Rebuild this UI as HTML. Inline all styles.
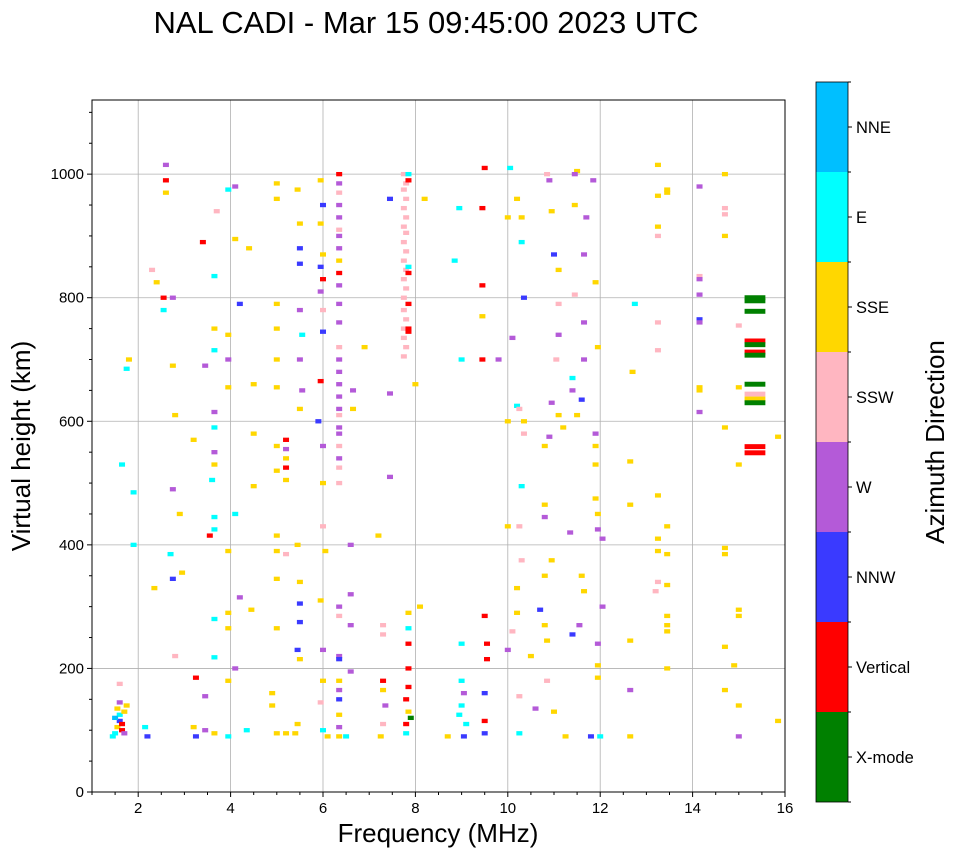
<!DOCTYPE html>
<html><head><meta charset="utf-8"><style>
body{margin:0;background:#fff;font-family:"Liberation Sans",sans-serif}
svg text{font-family:"Liberation Sans",sans-serif;fill:#000}
</style></head><body>
<svg id="c" width="958" height="857">
<text x="426" y="33" font-size="31" text-anchor="middle">NAL CADI - Mar 15 09:45:00 2023 UTC</text>
<g id="grid"></g><g id="marks"></g><g id="axes"></g><g id="cbar"></g>
<text x="438" y="842" font-size="26" text-anchor="middle">Frequency (MHz)</text>
<text transform="translate(30,446) rotate(-90)" font-size="26" text-anchor="middle">Virtual height (km)</text>
<text transform="translate(944,442) rotate(-90)" font-size="26" text-anchor="middle">Azimuth Direction</text>
</svg>
<script>
const xTicks=[2,4,6,8,10,12,14,16];
const yTicks=[0,200,400,600,800,1000];
const dirNames=["X-mode","Vertical","NNW","W","SSW","SSE","E","NNE"];
const dirColors=["#008000","#ff0000","#3a3aff","#b45ad8","#ffb6c1","#ffd700","#00ffff","#00bfff"];
const obs=[
[1.5,95,6],[1.55,105,5],[1.6,115,2],[1.6,125,6],[1.65,100,1],[1.55,135,5],[1.6,145,3],[1.65,110,1],[1.5,120,7],[1.7,95,3],[1.6,175,4],[1.7,130,5],[1.45,90,6],[1.75,140,5],[1.75,685,6],[1.8,700,5],[1.9,485,6],[1.9,400,6],[1.65,530,6],[2.15,105,6],[2.2,90,2],
[2.3,845,4],[2.4,825,5],[2.55,800,1],[2.55,780,6],[2.6,1015,3],[2.6,990,1],[2.6,970,5],[2.75,800,3],[2.75,690,5],[2.8,610,5],[2.75,490,3],[2.7,385,6],[2.75,345,2],[2.8,220,4],[2.35,330,5],[2.95,355,5],[2.9,450,5],
[3.2,570,5],[3.25,185,1],[3.2,105,5],[3.25,90,2],[3.4,890,1],[3.45,690,3],[3.45,155,3],[3.45,100,3],
[3.65,835,6],[3.65,750,5],[3.65,715,6],[3.65,615,3],[3.65,590,6],[3.65,550,3],[3.65,530,5],[3.6,505,6],[3.65,445,6],[3.65,425,6],[3.55,415,1],[3.65,280,6],[3.65,218,6],[3.65,95,5],[3.7,940,4],
[3.95,975,6],[3.95,740,5],[3.95,700,3],[3.95,655,5],[3.95,390,5],[3.95,290,5],[3.95,265,5],[3.95,180,5],[3.95,90,6],
[4.1,980,3],[4.1,895,5],[4.1,450,6],[4.1,200,3],[4.2,790,2],[4.2,315,3],[4.35,100,6],[4.4,880,5],[4.45,295,5],[4.5,660,5],[4.5,580,5],[4.5,495,5],
[5.0,985,5],[5.0,960,5],[5.0,790,5],[5.0,750,5],[5.0,700,5],[5.0,655,5],[5.0,560,5],[5.0,520,5],[5.0,415,5],[5.0,390,5],[5.0,345,5],[5.0,265,5],[4.9,160,5],[4.9,140,5],[5.0,95,5],
[5.2,570,1],[5.2,555,3],[5.2,540,5],[5.2,525,1],[5.2,505,5],[5.2,385,4],[5.2,95,5],
[5.45,975,5],[5.5,920,5],[5.5,880,2],[5.5,855,2],[5.5,780,3],[5.55,740,6],[5.5,700,3],[5.55,650,3],[5.5,620,5],[5.45,400,5],[5.5,340,5],[5.5,305,2],[5.5,275,2],[5.45,230,2],[5.5,215,5],[5.45,110,5],[5.4,95,5],
[5.95,990,5],[6.0,950,2],[5.95,920,5],[6.0,870,5],[5.95,850,2],[6.0,830,1],[5.95,810,3],[6.0,780,4],[6.0,745,2],[5.95,665,1],[5.9,600,2],[6.0,560,3],[6.0,500,5],[6.0,430,4],[6.05,390,5],[5.95,310,5],[6.0,230,3],[6.0,180,5],[5.95,145,4],[6.0,100,6],[6.1,90,5],
[6.35,1000,1],[6.35,985,3],[6.35,970,4],[6.35,950,3],[6.35,930,3],[6.35,910,4],[6.35,900,3],[6.35,880,3],[6.35,860,5],[6.35,840,1],[6.35,820,3],[6.35,790,3],[6.35,760,3],[6.35,720,4],[6.35,700,3],[6.35,680,3],[6.35,660,3],[6.35,640,3],[6.35,620,3],[6.35,610,4],[6.35,590,3],[6.35,580,3],[6.35,560,4],[6.35,540,3],[6.35,525,4],[6.35,500,4],[6.35,300,3],[6.35,285,4],[6.35,220,3],[6.35,215,2],[6.35,180,5],[6.35,165,3],[6.35,150,2],[6.35,125,5],[6.35,105,3],[6.35,90,5],[6.5,90,6],
[6.6,400,3],[6.6,320,3],[6.6,270,3],[6.6,195,3],[6.65,650,3],[6.65,620,5],[6.9,720,5],[7.2,415,5],
[7.3,270,4],[7.3,255,4],[7.3,180,1],[7.3,165,5],[7.35,140,3],[7.3,110,4],[7.25,90,5],[7.45,960,2],[7.45,645,3],[7.45,510,3],
[7.75,1000,4],[7.8,985,4],[7.75,975,4],[7.8,960,4],[7.75,945,4],[7.8,930,4],[7.75,915,4],[7.8,905,4],[7.75,890,4],[7.8,875,4],[7.75,860,4],[7.8,845,4],[7.85,840,1],[7.75,830,4],[7.8,815,4],[7.75,800,4],[7.85,790,1],[7.75,780,4],[7.8,765,4],[7.75,750,4],[7.85,750,1],[7.85,745,1],[7.75,735,4],[7.8,720,4],[7.75,705,4],[7.85,1000,6],[7.85,850,6],[7.85,990,1],
[7.85,290,5],[7.85,265,6],[7.85,240,1],[7.85,200,1],[7.85,170,1],[7.8,150,1],[7.85,130,5],[7.8,110,1],[7.8,95,6],[7.9,120,0],
[8.2,960,5],[8.1,300,5],[8.0,660,5],[8.7,90,5],
[8.85,860,6],[8.95,945,6],[9.0,700,6],[9.0,240,6],[9.05,160,3],[9.0,140,6],[8.95,125,6],[9.1,110,6],[9.05,90,2],[9.0,180,6],
[9.5,1010,1],[9.45,945,1],[9.45,820,1],[9.45,770,5],[9.45,700,1],[9.5,285,1],[9.55,240,1],[9.55,215,1],[9.5,160,2],[9.5,115,1],[9.5,95,2],
[10.0,930,5],[10.0,600,5],[10.0,430,5],[10.0,230,3],[10.05,1010,6],[10.2,960,5],[10.3,930,5],[10.3,890,6],[10.35,800,2],[10.1,735,3],[9.8,700,3],[10.2,625,6],[10.25,620,4],[10.35,600,5],[10.35,580,4],[10.3,495,6],[10.25,430,4],[10.3,375,4],[10.2,330,5],[10.2,290,5],[10.1,260,4],[10.5,220,5],[10.25,155,4],[10.6,135,3],[10.25,95,6],
[10.85,1000,4],[10.9,990,3],[10.95,940,5],[11.0,870,2],[11.1,845,5],[11.1,790,4],[11.1,740,3],[11.05,700,4],[10.95,630,3],[11.1,610,5],[11.2,590,5],[10.9,575,3],[10.8,560,5],[10.8,465,5],[10.8,445,3],[11.35,420,3],[10.95,375,5],[10.8,350,5],[10.7,295,2],[10.8,270,5],[10.85,245,5],[10.85,180,4],[11.0,130,5],[11.25,90,5],
[11.5,1005,5],[11.45,1000,3],[11.85,990,3],[11.45,950,5],[11.7,930,3],[11.65,870,3],[11.9,825,5],[11.45,805,4],[11.65,760,3],[11.95,720,5],[11.65,700,3],[11.4,670,6],[11.4,650,3],[11.6,635,2],[11.5,610,5],[11.9,580,3],[11.9,560,5],[11.9,530,5],[11.9,475,5],[11.95,450,5],[11.95,425,3],[12.05,410,3],[11.6,350,5],[11.65,325,5],[12.05,300,3],[11.55,270,3],[11.4,255,2],[11.95,240,3],[11.95,205,5],[11.95,185,5],[11.8,90,2],[12.0,90,6],
[12.75,790,6],[12.7,680,5],[12.65,535,5],[12.65,465,5],[12.65,245,5],[12.65,165,3],[12.65,90,5],
[13.25,1015,5],[13.25,965,5],[13.25,915,5],[13.25,900,4],[13.25,760,4],[13.25,715,4],[13.25,480,5],[13.25,410,5],[13.25,390,5],[13.25,340,4],[13.2,325,4],
[13.45,975,5],[13.45,970,5],[13.45,430,5],[13.45,385,5],[13.45,335,5],[13.45,285,5],[13.45,270,5],[13.45,260,5],[13.45,200,5],
[14.15,980,3],[14.15,835,4],[14.15,830,3],[14.15,805,3],[14.15,765,2],[14.15,760,3],[14.15,655,5],[14.15,650,5],[14.15,615,3],
[14.7,1000,5],[14.7,945,4],[14.7,935,4],[14.7,900,5],[14.7,590,5],[14.7,395,5],[14.7,385,5],[14.7,235,5],[14.7,165,5],[15.0,90,3],
[15.0,755,4],[15.0,655,5],[15.0,530,5],[15.0,295,5],[15.0,285,5],[14.9,205,5],[15.0,140,5],
[15.35,800,0],[15.35,795,0],[15.35,778,0],[15.35,730,1],[15.35,724,0],[15.35,712,1],[15.35,707,0],[15.35,660,0],[15.35,644,4],[15.35,636,5],[15.35,630,0],[15.35,559,1],[15.35,549,1],
[15.85,575,5],[15.85,115,5]
];
const X0=92,X1=785,Y0=792,Y1=100,FMIN=1,FMAX=16,HMAX=1120;
const xs=f=>X0+(f-FMIN)/(FMAX-FMIN)*(X1-X0);
const ys=h=>Y0-h/HMAX*(Y0-Y1);
const NS="http://www.w3.org/2000/svg";
function mk(tag,attrs,parent){const e=document.createElementNS(NS,tag);for(const k in attrs)e.setAttribute(k,attrs[k]);parent.appendChild(e);return e;}
const grid=document.getElementById('grid'),marks=document.getElementById('marks'),axes=document.getElementById('axes'),cbar=document.getElementById('cbar');
xTicks.forEach(t=>{if(t<FMAX){const l=mk('line',{x1:xs(t),x2:xs(t),y1:Y1,y2:Y0,stroke:'#b0b0b0','stroke-width':0.8},grid);

}});
yTicks.forEach(t=>{if(t>0){const l=mk('line',{x1:X0,x2:X1,y1:ys(t),y2:ys(t),stroke:'#b0b0b0','stroke-width':0.8},grid);

}});
obs.forEach(o=>{const f=o[0],h=o[1],d=o[2];const w=(f>15.1&&f<15.6)?0.45:0.13;const hh=(f>15.1&&f<15.6)?8:7;
const r=mk('rect',{x:xs(f-w/2),y:ys(h+hh/2),width:xs(f+w/2)-xs(f-w/2),height:ys(0)-ys(hh),fill:dirColors[d]},marks);

});
const frame=mk('rect',{x:X0,y:Y1,width:X1-X0,height:Y0-Y1,fill:'none',stroke:'#000','stroke-width':1},axes);


for(let f=1;f<=16;f+=0.5){const major=xTicks.includes(f);mk('line',{x1:xs(f),x2:xs(f),y1:Y0,y2:Y0+(major?5:3),stroke:'#000'},axes);}
for(let h=0;h<=1100;h+=50){const major=yTicks.includes(h);mk('line',{x1:X0,x2:X0-(major?5:3),y1:ys(h),y2:ys(h),stroke:'#000'},axes);}
xTicks.forEach(t=>{const tx=mk('text',{x:xs(t),y:Y0+21,'font-size':15,'text-anchor':'middle'},axes);tx.textContent=t;

});
yTicks.forEach(t=>{const tx=mk('text',{x:X0-8,y:ys(t)+5,'font-size':15,'text-anchor':'end'},axes);tx.textContent=t;

});
const CB_X=816,CB_W=32,CB_TOP=82,CB_BOT=802,seg=(CB_BOT-CB_TOP)/dirNames.length;
dirNames.forEach((n,i)=>{const y0=CB_BOT-(i+1)*seg;
const r=mk('rect',{x:CB_X,y:y0,width:CB_W,height:seg,fill:dirColors[i]},cbar);


mk('line',{x1:CB_X+CB_W,x2:CB_X+CB_W+4,y1:y0+seg/2,y2:y0+seg/2,stroke:'#000'},cbar);
const t=mk('text',{x:CB_X+CB_W+8,y:y0+seg/2+6,'font-size':16.5},cbar);t.textContent=n;

});
for(let i=0;i<=dirNames.length;i++){mk('line',{x1:CB_X+CB_W,x2:CB_X+CB_W+3,y1:CB_TOP+i*seg,y2:CB_TOP+i*seg,stroke:'#000'},cbar);}
const cf=mk('rect',{x:CB_X,y:CB_TOP,width:CB_W,height:CB_BOT-CB_TOP,fill:'none',stroke:'#000','stroke-width':0.8},cbar);


</script>
</body></html>
